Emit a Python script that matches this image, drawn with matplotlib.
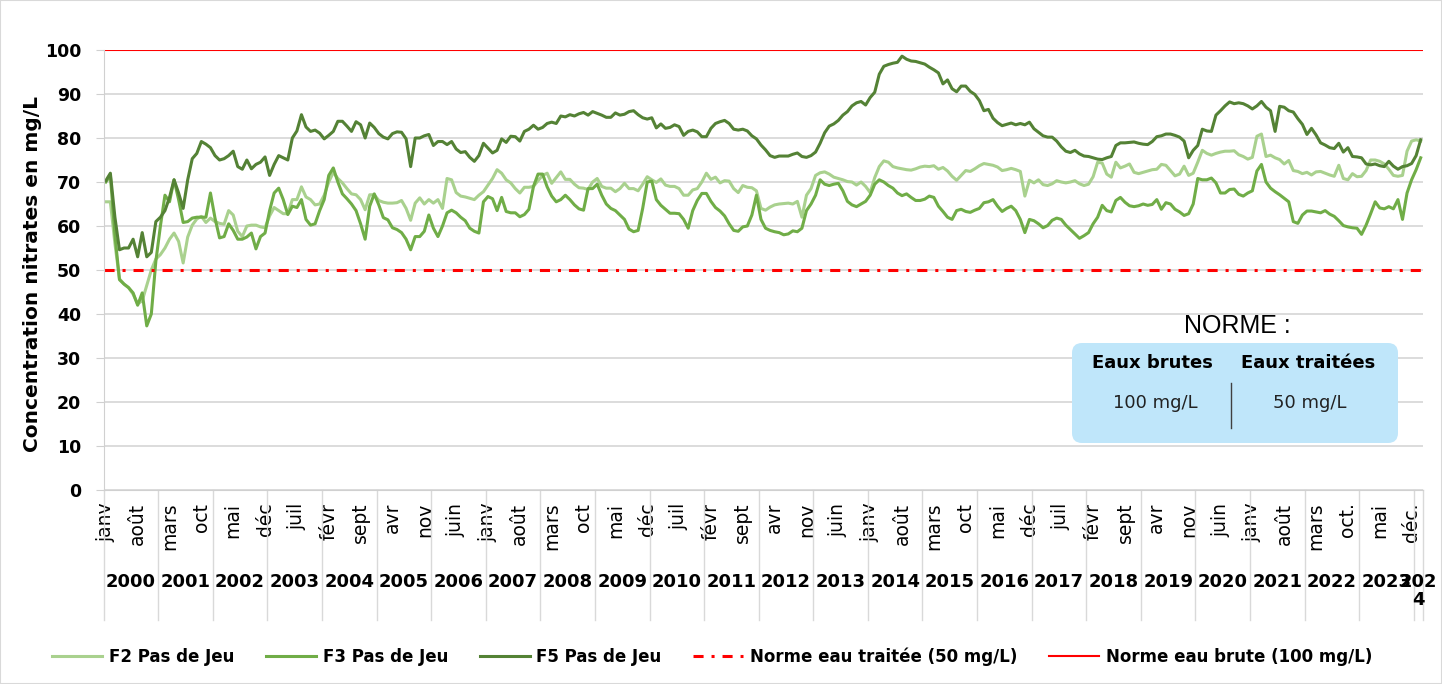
import numpy as np
import matplotlib.pyplot as plt
import matplotlib.transforms as mtransforms
from matplotlib.patches import FancyBboxPatch, Rectangle

# monthly nitrate values (mg/L), janv 2000 -> févr 2024
f2 = [
    65.5, 65.5, 56, 48, 46.8, 46, 44.5, 42.3, 43, 46.5, 50, 52.5,
    53.5, 55, 57, 58.4, 56.5, 51.6, 57.5, 60.2, 61.6, 62.2, 60.8, 61.8,
    61, 60.6, 60.4, 63.5, 62.5, 58.8, 57.6, 60, 60.2, 60.2, 59.8, 59.6,
    62.3, 64.2, 63.5, 62.8, 62.8, 66, 66, 68.9, 66.6, 66, 64.8, 65,
    67, 70, 72.2, 70.8, 69.8, 68.5, 67.3, 67.1, 66, 63.7, 67.1, 67.1,
    65.8, 65.4, 65.2, 65.2, 65.3, 65.8, 64, 61.3, 65.2, 66.4, 65, 66,
    65.2, 66, 64, 70.8, 70.5, 67.6, 66.8, 66.6, 66.3, 66, 67, 67.8,
    69.3, 70.8, 72.8, 72, 70.5, 69.8, 68.5, 67.5, 68.8, 68.8, 69, 70.3,
    71.5, 72, 69.7, 71, 72.3, 70.6, 70.6, 69.5, 68.7, 68.6, 68.3, 70,
    70.8, 69, 68.6, 68.6, 67.8, 68.5, 69.7, 68.5, 68.5, 68, 69.5, 71.2,
    70.5, 69.9, 70.7, 69.3, 69, 69, 68.5, 67, 67, 68.2, 68.5, 70,
    72, 70.6, 71.1, 69.8, 70.3, 70.2, 68.5, 67.6, 69.2, 68.8, 68.7, 68,
    64, 63.6, 64.3, 64.8, 65, 65.1, 65.2, 65, 65.6, 62, 67, 68.5,
    71.5, 72.1, 72.3, 71.8, 71.1, 70.8, 70.5, 70.1, 70, 69.3, 70, 69,
    67.6, 71, 73.5, 74.8, 74.5, 73.5, 73.2, 73, 72.8, 72.7, 73, 73.4,
    73.6, 73.5, 73.7, 72.9, 73.3, 72.5, 71.3, 70.4, 71.5, 72.6, 72.4, 73,
    73.7, 74.2, 74, 73.8, 73.4, 72.6, 72.8, 73.1, 72.8, 72.4, 66.8, 70.4,
    69.8, 70.5, 69.4, 69.2, 69.6, 70.3, 70, 69.8, 70, 70.3, 69.6, 69.2,
    69.5, 71.2, 74.5, 74.3, 71.8, 71.1, 74.5, 73.2, 73.6, 74.1, 72.2, 71.9,
    72.2, 72.5, 72.8, 72.9, 74, 73.8, 72.6, 71.4, 71.8, 73.6, 71.5, 72,
    74.5, 77.2, 76.5, 76.1, 76.5, 76.8, 77, 77, 77.1, 76.2, 75.8, 75.2,
    75.6, 80.4, 80.9, 75.8, 76.1, 75.5, 75.1, 74.1, 74.9, 72.6, 72.4, 71.9,
    72.2, 71.6, 72.3, 72.4, 72, 71.6, 71.3, 73.8, 70.8, 70.5, 71.9, 71.2,
    71.3, 72.6, 75, 75, 74.7, 74.1, 72.9, 71.5, 71.3, 71.5, 77, 79.3,
    79.6, 79.3,
]

f3 = [
    70, 71.5, 58, 47.8, 46.8, 46, 44.8, 42, 44.8, 37.3, 40, 52,
    60, 67, 65.5, 70.5, 66, 60.8, 61, 61.8, 62, 62, 62, 67.5,
    61.8, 57.3, 57.6, 60.5, 59, 57, 57, 57.5, 58.4, 54.8, 57.6, 58.4,
    63.5, 67.5, 68.6, 66, 62.6, 64.5, 64.2, 66, 61.5, 60.2, 60.5, 63.5,
    66, 71.5, 73.2, 70, 67.3, 66.2, 65, 63.5, 60.5, 57, 64.5, 67.3,
    64.8, 61.9, 61.4, 59.6, 59.2, 58.5, 57, 54.6, 57.6, 57.6, 58.8, 62.5,
    59.5, 57.6, 60, 63, 63.6, 63, 62, 61.2, 59.5, 58.8, 58.4, 65.5,
    66.7, 66.2, 63.5, 66.5, 63.3, 63, 63, 62.1, 62.6, 63.8, 69, 71.8,
    71.8, 68.9, 66.8, 65.5, 66, 67, 66, 64.8, 63.9, 63.6, 68.5, 68.5,
    69.5, 67, 65, 64, 63.5, 62.5, 61.5, 59.3, 58.7, 59, 64, 70,
    70.2, 66, 64.7, 63.8, 62.9, 62.9, 62.8, 61.5, 59.5, 63.5, 65.8, 67.4,
    67.4, 65.6, 64.2, 63.4, 62.3, 60.5, 59, 58.8, 59.8, 60, 62.5, 67,
    61.5, 59.5, 59, 58.7, 58.5, 58, 58.2, 58.9, 58.7, 59.5, 63.5, 65,
    67, 70.5, 69.5, 69.2, 69.5, 69.7, 68, 65.6, 64.8, 64.4, 65, 65.6,
    67, 69.5, 70.5, 70, 69.2, 68.6, 67.5, 66.9, 67.3, 66.5, 65.8, 65.8,
    66.1, 66.8, 66.5, 64.5, 63.3, 62, 61.5, 63.5, 63.8, 63.3, 63.1, 63.6,
    64, 65.3, 65.5, 66, 64.5, 63.3, 64, 64.5, 63.5, 61.5, 58.5, 61.5,
    61.2, 60.5, 59.6, 60.1, 61.3, 61.8, 61.5, 60.2, 59.2, 58.2, 57.2, 57.8,
    58.5, 60.5, 62, 64.7, 63.5, 63.2, 65.8, 66.5, 65.4, 64.6, 64.4, 64.6,
    65, 64.7, 64.9, 66, 63.8, 65.3, 65, 63.8, 63.2, 62.4, 62.8, 65,
    70.8, 70.5, 70.5, 70.9, 69.8, 67.5, 67.5, 68.3, 68.4, 67.2, 66.8, 67.5,
    68, 72.5, 74, 70, 68.6, 67.8, 67.1, 66.3, 65.5, 61, 60.6, 62.5,
    63.4, 63.4, 63.2, 63, 63.5, 62.7, 62.2, 61.2, 60.1, 59.8, 59.6, 59.5,
    58.1, 60.2, 62.8, 65.5, 64.1, 63.9, 64.4, 63.9, 66, 61.5, 67.5, 70.5,
    72.8, 75.5,
]

f5 = [
    70.3, 72, 62, 54.6, 55, 55, 57, 53, 58.5, 53, 54, 61,
    62, 63.5, 66.5, 70.5, 67.5, 64, 70.5, 75.3, 76.5, 79.2, 78.6, 77.8,
    76, 75, 75.3, 76, 77, 73.5, 72.9, 75, 73, 74, 74.5, 75.7,
    71.5, 74, 76, 75.5, 75, 80, 81.6, 85.3, 82.5, 81.5, 81.8, 81.1,
    79.8, 80.6, 81.5, 83.8, 83.8, 82.7, 81.5, 83.7, 83, 80, 83.4, 82.4,
    81, 80.2, 79.8, 81, 81.4, 81.3, 79.8, 73.5, 80, 80, 80.5, 80.8,
    78.3, 79.2, 79.2, 78.5, 79.2, 77.5, 76.7, 76.9, 75.6, 74.7, 76, 78.8,
    77.7, 76.6, 77.2, 79.8, 79, 80.4, 80.3, 79.3, 81.5, 82, 82.9, 82,
    82.4, 83.3, 83.6, 83.3, 85, 84.8, 85.3, 85, 85.5, 85.8, 85.2, 86,
    85.6, 85.2, 84.7, 84.7, 85.7, 85.2, 85.4, 86, 86.2, 85.3, 84.6, 84.3,
    84.6, 82.3, 83.2, 82.2, 82.4, 83, 82.6, 80.6, 81.5, 81.8, 81.4, 80.3,
    80.3, 82.2, 83.3, 83.7, 84, 83.3, 82, 81.8, 82, 81.6, 80.5, 79.8,
    78.4, 77.3, 76, 75.6, 75.9, 75.9, 75.9, 76.3, 76.6, 75.8, 75.6, 76,
    76.8, 78.8, 81.2, 82.7, 83.2, 84, 85.2, 86, 87.3, 88, 88.3, 87.5,
    89.2, 90.4, 94.5, 96.3, 96.7, 97, 97.2, 98.6, 97.9, 97.5, 97.4, 97.1,
    96.8, 96.1, 95.5, 94.8, 92.3, 93.2, 91.2, 90.5, 91.8, 91.8, 90.6, 89.9,
    88.5, 86.2, 86.5, 84.5, 83.5, 82.8, 83.1, 83.4, 83, 83.3, 83, 83.6,
    82.1, 81.3, 80.5, 80.2, 80.2, 79.3, 78, 77, 76.7, 77.2, 76.4, 75.9,
    75.8, 75.5, 75.2, 75.1, 75.5, 75.8, 78.3, 78.9, 78.9, 79, 79.1, 78.8,
    78.6, 78.5, 79.2, 80.3, 80.5, 80.9, 80.9, 80.6, 80.2, 79.3, 75.5, 77.2,
    78.3, 82, 81.6, 81.5, 85.2, 86.2, 87.3, 88.2, 87.8, 88, 87.8, 87.3,
    86.6, 87.3, 88.3, 87, 86.2, 81.5, 87.2, 87, 86.2, 85.9, 84.4, 83.1,
    80.8, 82.2, 80.7, 78.9, 78.4, 77.8, 77.6, 78.8, 76.8, 77.8, 75.8, 75.7,
    75.5, 74.1, 73.9, 74.1, 73.7, 73.5, 74.7, 73.6, 72.9, 73.5, 73.7, 74.2,
    76, 79.6,
]

norme_traitee = 50
norme_brute = 100

month_labels = ['janv', 'août', 'mars', 'oct', 'mai', 'déc', 'juil', 'févr', 'sept',
                'avr', 'nov', 'juin', 'janv', 'août', 'mars', 'oct', 'mai', 'déc',
                'juil', 'févr', 'sept', 'avr', 'nov', 'juin', 'janv', 'août', 'mars',
                'oct', 'mai', 'déc', 'juil', 'févr', 'sept', 'avr', 'nov', 'juin',
                'janv', 'août', 'mars', 'oct.', 'mai', 'déc.']
year_labels = [str(y) for y in range(2000, 2024)] + ['202\n4']

n = len(f5)
x = np.arange(n) + 0.5

fig = plt.figure(figsize=(14.42, 6.84), dpi=100)
ax = fig.add_axes([0.0718, 0.2836, 0.915, 0.6433])

ax.plot(x, f2, color='#a9d18e', lw=2.2, label='F2 Pas de Jeu')
ax.plot(x, f3, color='#70ad47', lw=2.2, label='F3 Pas de Jeu')
ax.plot(x, f5, color='#548235', lw=2.2, label='F5 Pas de Jeu')
ax.axhline(norme_traitee, color='#ff0000', lw=2.2, linestyle=(0, (3.3, 2.6, 1, 2.6)),
           label='Norme eau traitée (50 mg/L)')
ax.axhline(norme_brute, color='#ff0000', lw=1.5, label='Norme eau brute (100 mg/L)')

ax.set_xlim(0, n)
ax.set_ylim(0, 100)
ax.set_yticks(range(0, 101, 10))
ax.yaxis.grid(True, color='#d9d9d9', lw=1.3)
ax.set_axisbelow(True)
for s in ['top', 'right']:
    ax.spines[s].set_visible(False)
ax.spines['left'].set_color('#d0d0d0')
ax.spines['bottom'].set_color('#d0d0d0')
ax.tick_params(axis='y', length=6, color='#d0d0d0', labelsize=12.5, pad=10)
for lbl in ax.get_yticklabels():
    lbl.set_fontweight('bold')

ax.set_xticks(np.arange(0, n, 7) + 0.5)
ax.set_xticklabels(month_labels, rotation=90, fontsize=13.5)
ax.tick_params(axis='x', length=0, pad=9)

ax.set_ylabel('Concentration nitrates en mg/L', fontsize=14.5, fontweight='bold')
ax.yaxis.set_label_coords(-0.047, 0.49)

# year separators and labels under the month labels
trans = mtransforms.blended_transform_factory(ax.transData, ax.transAxes)
bounds = list(range(0, n, 12)) + [n]
for b in bounds:
    ax.plot([b, b], [0, -0.295], transform=trans, clip_on=False, color='#d9d9d9', lw=1)
for i, lbl in enumerate(year_labels):
    c = (bounds[i] + bounds[i + 1]) / 2
    ax.text(c, -0.188, lbl, transform=trans, ha='center', va='top',
            fontsize=13, fontweight='bold', linespacing=1.0)

# norm box
fig.text(1237 / 1442, 1 - 326 / 684, 'NORME :', family='Liberation Sans', fontsize=18,
         ha='center', va='center')
box = FancyBboxPatch((10.72, 2.41), 3.26, 1.0, boxstyle='round,pad=0,rounding_size=0.1',
                     transform=fig.dpi_scale_trans, facecolor='#bfe6fa', edgecolor='none')
fig.patches.append(box)
fig.text(1152 / 1442, 1 - 363 / 684, 'Eaux brutes', fontsize=13, fontweight='bold',
         ha='center', va='center')
fig.text(1308 / 1442, 1 - 363 / 684, 'Eaux traitées', fontsize=13, fontweight='bold',
         ha='center', va='center')
fig.text(1155 / 1442, 1 - 403 / 684, '100 mg/L', fontsize=13, ha='center', va='center',
         color='#222222')
fig.text(1310 / 1442, 1 - 403 / 684, '50 mg/L', fontsize=13, ha='center', va='center',
         color='#222222')
fig.add_artist(plt.Line2D([1231 / 1442, 1231 / 1442], [1 - 383 / 684, 1 - 428 / 684],
                          transform=fig.transFigure, color='#404040', lw=1))

fig.legend(loc='center', bbox_to_anchor=(0.4938, 0.0395), ncol=5, frameon=False,
           prop={'weight': 'bold', 'size': 12}, handlelength=3, handletextpad=0.4,
           columnspacing=1.9)

fig.patches.append(Rectangle((0, 0), 1, 1, transform=fig.transFigure, fill=False,
                             edgecolor='#d9d9d9', lw=1.5))

fig.savefig('out.png', dpi=100)
